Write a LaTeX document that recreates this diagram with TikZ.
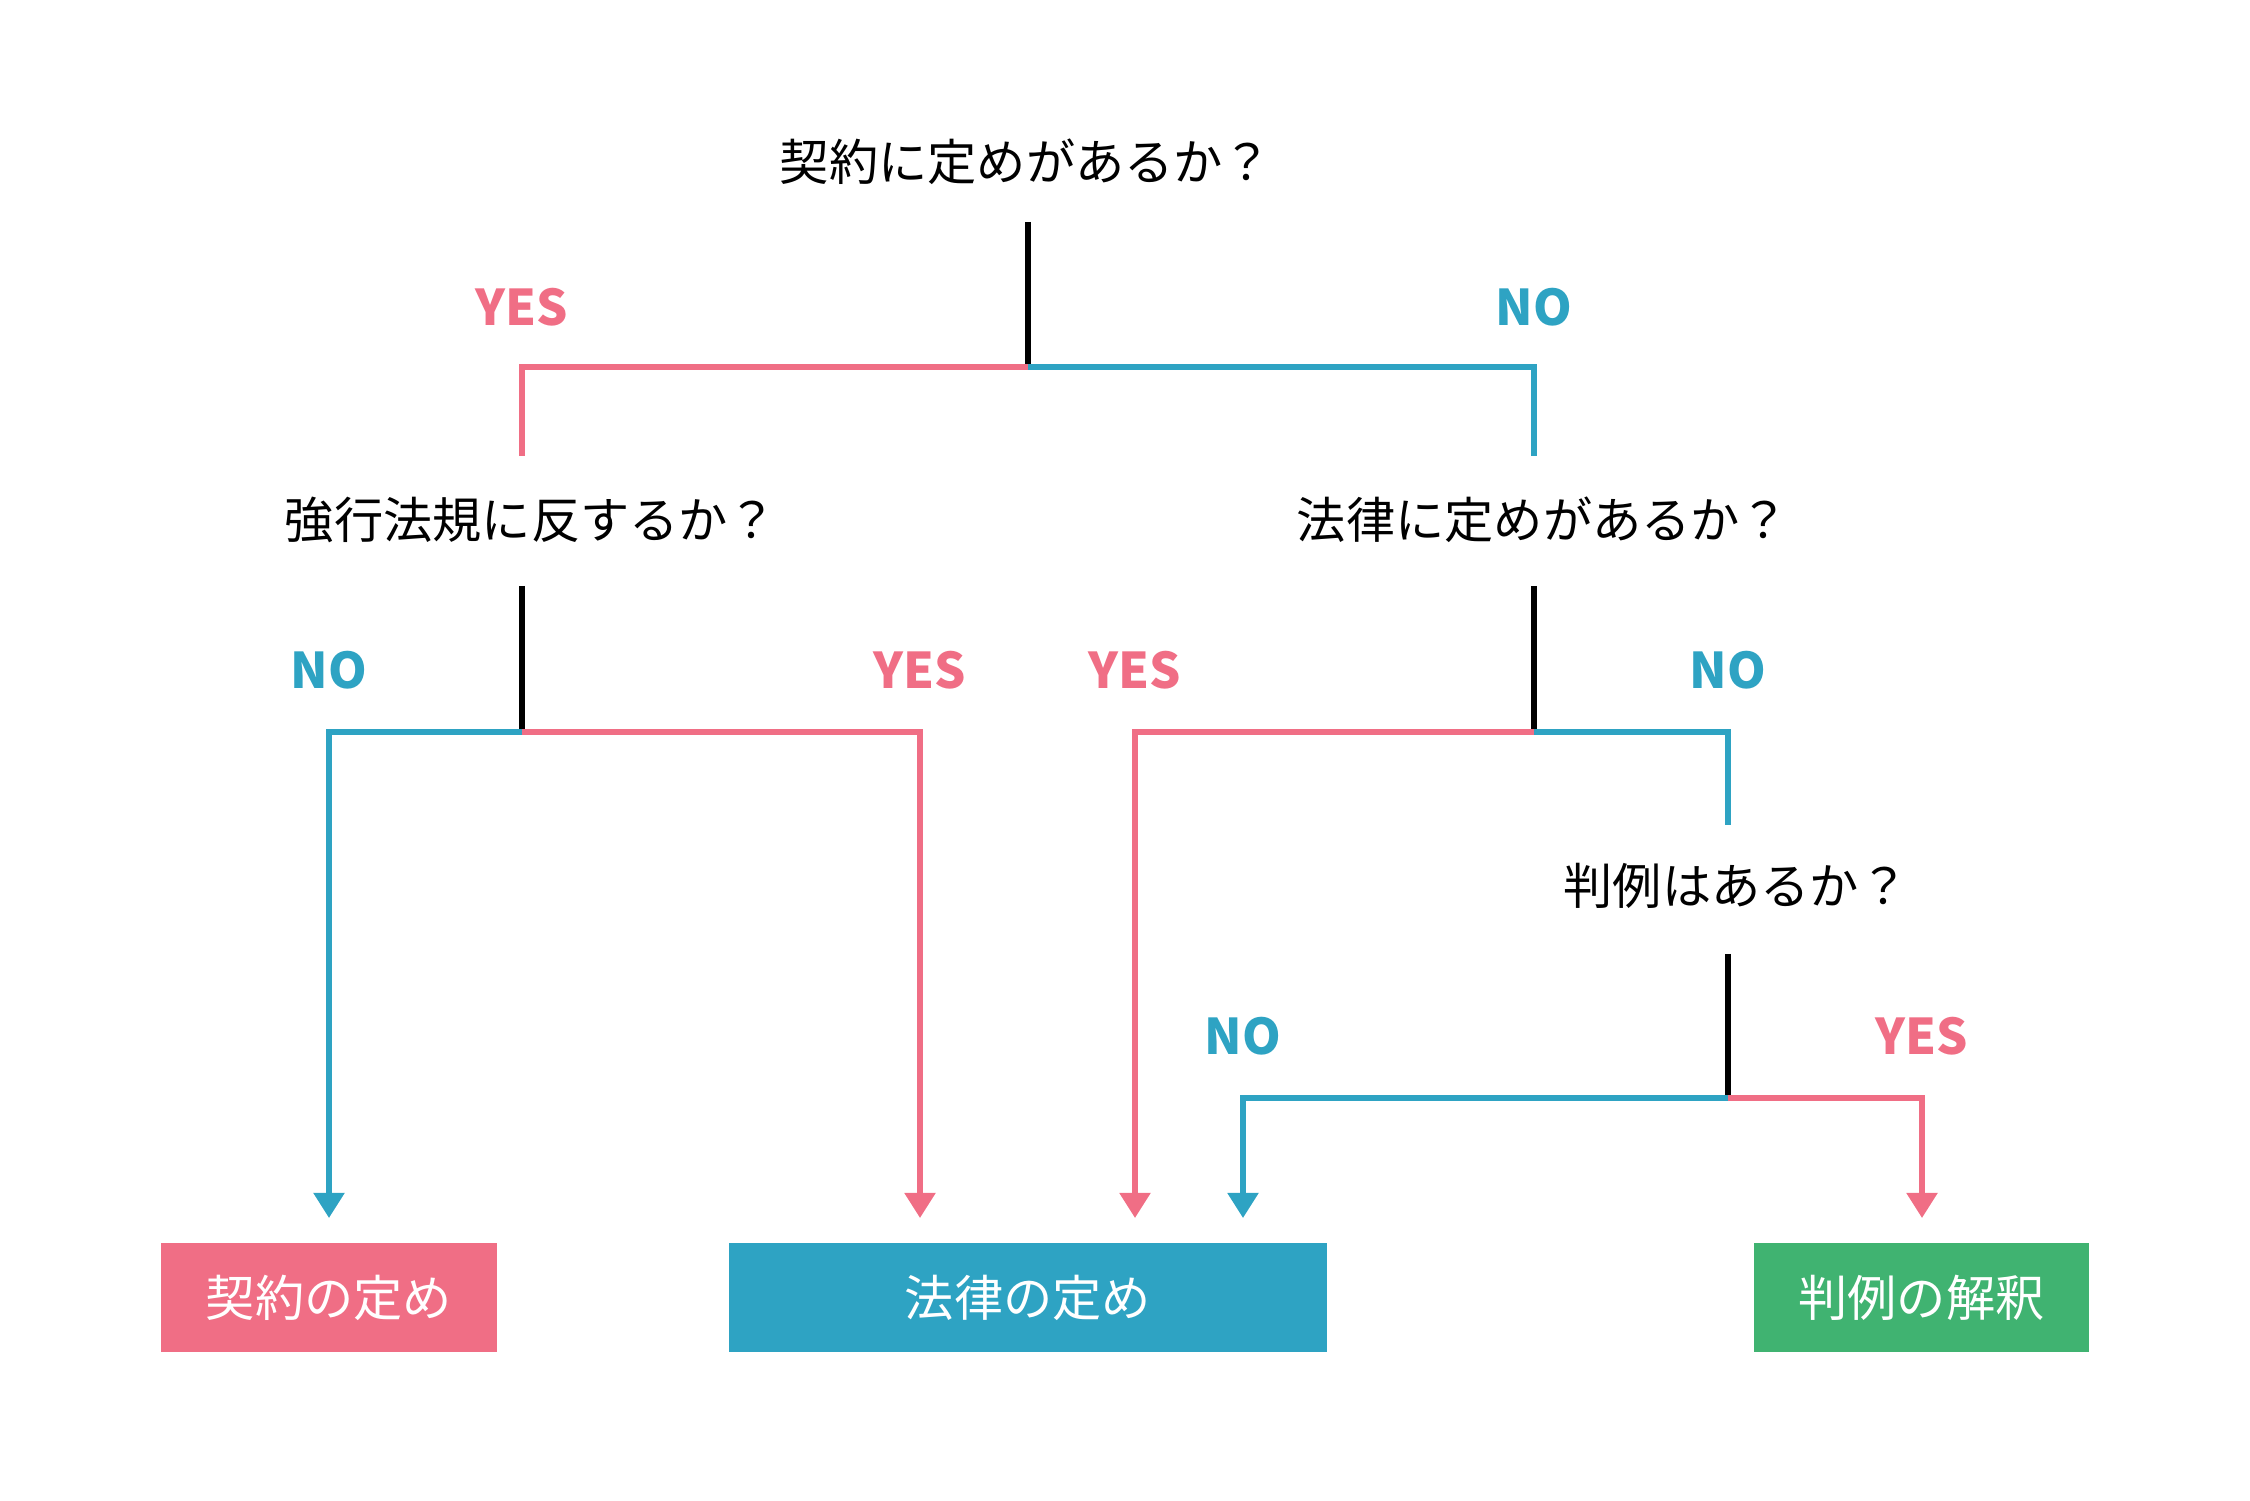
\documentclass[tikz,border=0pt]{standalone}
\usepackage{fontspec}
\usepackage{xcolor}
\usetikzlibrary{arrows.meta}
\setmainfont{Noto Sans CJK JP}

\definecolor{yespink}{RGB}{240,110,133}
\definecolor{noblue}{RGB}{46,163,195}
\definecolor{casegreen}{RGB}{64,179,113}

\tikzset{
  question/.style={font=\fontsize{14pt}{16pt}\selectfont, inner sep=0pt},
  answer/.style={font=\fontsize{14pt}{16pt}\selectfont\bfseries, inner sep=0pt},
  stem/.style={line width=1.5pt, black},
  yesline/.style={line width=1.5pt, yespink, line join=miter},
  noline/.style={line width=1.5pt, noblue, line join=miter},
  tip/.style={-{Triangle[width=3mm,length=2.5mm]}},
  result/.style={minimum height=1.09cm, text=white, inner sep=0pt,
    font=\fontsize{14pt}{16pt}\selectfont},
}

\begin{document}
\begin{tikzpicture}[x=0.01cm, y=-0.01cm]
                \useasboundingbox (0,0) rectangle (2250,1501);

                % questions
                \node[question] (q1) at (1026,162) {契約に定めがあるか？};
                \node[question] (q2) at (531,520) {強行法規に反するか？};
                \node[question] (q3) at (1543,520) {法律に定めがあるか？};
                \node[question] (q4) at (1736,886) {判例はあるか？};

                % results
                \node[result, fill=yespink, minimum width=3.36cm] (b1) at (329,1297.5) {\raisebox{-1.2mm}{契約の定め}};
                \node[result, fill=noblue, minimum width=5.98cm] (b2) at (1028,1297.5) {\raisebox{-1.2mm}{法律の定め}};
                \node[result, fill=casegreen, minimum width=3.35cm] (b3) at (1921.5,1297.5) {\raisebox{-1.2mm}{判例の解釈}};

                % stems and junctions
                \coordinate (s1) at (1028,222);  \coordinate (j1) at (1028,367);
                \coordinate (s2) at (522,586);   \coordinate (j2) at (522,732);
                \coordinate (s3) at (1534,586);  \coordinate (j3) at (1534,732);
                \coordinate (s4) at (1728,954);  \coordinate (j4) at (1728,1098);
                \draw[stem] (s1) -- (j1);
                \draw[stem] (s2) -- (j2);
                \draw[stem] (s3) -- (j3);
                \draw[stem] (s4) -- (j4);

                % branch ends
                \coordinate (t2) at (522,456);
                \coordinate (t3) at (1534,456);
                \coordinate (t4) at (1728,825);
                \coordinate (a1) at (329,1218);
                \coordinate (a2) at (920,1218);
                \coordinate (a3) at (1135,1218);
                \coordinate (a4) at (1243,1218);
                \coordinate (a5) at (1922,1218);

                \draw[yesline] (j1) -| (t2);
                \draw[noline] (j1) -| (t3);
                \draw[noline, tip] (j2) -| (a1);
                \draw[yesline, tip] (j2) -| (a2);
                \draw[yesline, tip] (j3) -| (a3);
                \draw[noline] (j3) -| (t4);
                \draw[noline, tip] (j4) -| (a4);
                \draw[yesline, tip] (j4) -| (a5);

                % labels
                \node[answer, text=yespink] (l1) at (522,307) {YES};
                \node[answer, text=noblue] (l2) at (1534,307) {NO};
                \node[answer, text=noblue] (l3) at (329,670) {NO};
                \node[answer, text=yespink] (l4) at (920,670) {YES};
                \node[answer, text=yespink] (l5) at (1135,670) {YES};
                \node[answer, text=noblue] (l6) at (1728,670) {NO};
                \node[answer, text=noblue] (l7) at (1243,1036) {NO};
                \node[answer, text=yespink] (l8) at (1922,1036) {YES};
            \end{tikzpicture}
\end{document}
